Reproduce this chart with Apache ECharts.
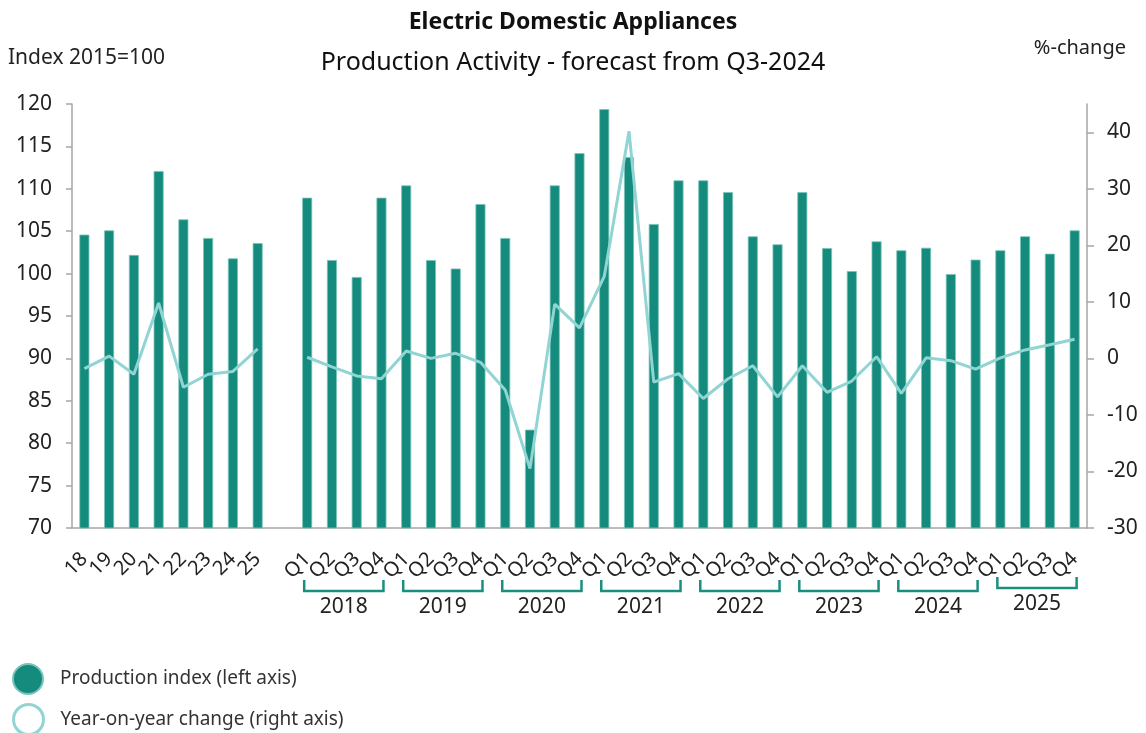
<!DOCTYPE html>
<html>
<head>
<meta charset="utf-8">
<script src="https://cdn.jsdelivr.net/npm/echarts@6/dist/echarts.min.js"></script>
<style>
  html, body { margin: 0; padding: 0; background: #ffffff; }
  #chart { width: 1146px; height: 733px; }
</style>
</head>
<body>
<div id="chart"></div>
<script>
// Annual figures (2018-2025), shown with two-digit year labels
const annualLabels = ['18', '19', '20', '21', '22', '23', '24', '25'];
const annualIndex  = [104.6, 105.1, 102.2, 112.1, 106.4, 104.2, 101.8, 103.6];
const annualChange = [-1.8, 0.4, -2.8, 9.8, -5.1, -2.8, -2.3, 1.7];

// Quarterly figures, Q1-2018 .. Q4-2025
const years = ['2018', '2019', '2020', '2021', '2022', '2023', '2024', '2025'];
const quarterLabels = ['Q1', 'Q2', 'Q3', 'Q4'];
const quarterIndex = [
  108.95, 101.6, 99.6, 108.95,
  110.4, 101.6, 100.6, 108.2,
  104.2, 81.6, 110.4, 114.2,
  119.4, 113.75, 105.85, 111.0,
  111.0, 109.6, 104.4, 103.45,
  109.6, 103.0, 100.3, 103.8,
  102.75, 103.05, 99.95, 101.65,
  102.75, 104.4, 102.35, 105.1
];
const quarterChange = [
  0.2, -1.5, -3.1, -3.6,
  1.3, 0.0, 0.9, -0.7,
  -5.6, -19.5, 9.6, 5.4,
  14.5, 40.2, -4.2, -2.7,
  -7.1, -3.6, -1.3, -6.8,
  -1.3, -6.0, -4.0, 0.3,
  -6.2, 0.1, -0.4, -1.9,
  0.1, 1.5, 2.4, 3.4
];

// Axis ticks
const leftTicks  = [70, 75, 80, 85, 90, 95, 100, 105, 110, 115, 120];
const rightTicks = [-30, -20, -10, 0, 10, 20, 30, 40];

const FONT = '"Noto Sans", sans-serif';
const TEXT = '#222222';
const BAR = '#148b7c';
const LINE = '#90d4d3';
const AXIS = '#a6a6a6';
const NAME_INDEX = 'Production index (left axis)';
const NAME_CHANGE = 'Year-on-year change (right axis)';

// One empty slot separates the annual block from the quarterly block
const categories = annualLabels.slice();
categories.push('');
years.forEach(() => quarterLabels.forEach(q => categories.push(q)));

const indexData = annualIndex.concat([null], quarterIndex);
const changeData = annualChange.concat([null], quarterChange);

const chart = echarts.init(document.getElementById('chart'), null, { renderer: 'canvas' });

const legendBase = {
  orient: 'vertical', left: 7, itemWidth: 30, itemHeight: 30,
  selectedMode: false,
  textStyle: { fontFamily: FONT, fontSize: 19, color: '#333', padding: [0, 0, 0, 12] }
};

const option = {
  animation: false,
  textStyle: { fontFamily: FONT, color: TEXT },
  title: [
    { text: 'Electric Domestic Appliances', left: 'center', top: 6,
      textStyle: { fontFamily: FONT, fontSize: 23, fontWeight: 'bold', color: '#111' } },
    { text: 'Production Activity - forecast from Q3-2024', left: 'center', top: 45,
      textStyle: { fontFamily: FONT, fontSize: 25, fontWeight: 'normal', color: '#111' } }
  ],
  grid: { left: 72, right: 59, top: 104, bottom: 205, containLabel: false },
  legend: [
    Object.assign({}, legendBase, {
      top: 658,
      data: [{ name: NAME_INDEX, icon: 'circle', itemStyle: { color: BAR } }]
    }),
    Object.assign({}, legendBase, {
      top: 698,
      data: [{ name: NAME_CHANGE, icon: 'circle',
        itemStyle: { color: '#ffffff', borderColor: LINE, borderWidth: 3 } }]
    })
  ],
  xAxis: {
    type: 'category', data: categories, boundaryGap: true,
    axisLine: { onZero: false, lineStyle: { color: AXIS, width: 1.5 } },
    axisTick: { show: false },
    axisLabel: { interval: 0, rotate: 45, margin: 28, fontSize: 20, color: TEXT, fontFamily: FONT }
  },
  yAxis: [
    {
      type: 'value', min: 70, max: 120, interval: 5, position: 'left',
      axisLine: { show: true, onZero: false, lineStyle: { color: AXIS, width: 1.5 } },
      axisTick: { show: true, length: 6, lineStyle: { color: AXIS, width: 1.5 }, customValues: leftTicks },
      axisLabel: { margin: 20, fontSize: 21, color: TEXT, fontFamily: FONT, customValues: leftTicks },
      splitLine: { show: false }
    },
    {
      type: 'value', min: -30, max: 45, interval: 10, position: 'right',
      axisLine: { show: true, onZero: false, lineStyle: { color: AXIS, width: 1.5 } },
      axisTick: { show: true, length: 7, lineStyle: { color: AXIS, width: 1.5 }, customValues: rightTicks },
      axisLabel: { margin: 20, fontSize: 21, color: TEXT, fontFamily: FONT, customValues: rightTicks },
      splitLine: { show: false }
    }
  ],
  series: [
    {
      name: NAME_INDEX, type: 'bar', yAxisIndex: 0,
      data: indexData, barWidth: 10,
      itemStyle: { color: BAR, borderColor: '#79c4ba', borderWidth: 0.8 }
    },
    {
      name: NAME_CHANGE, type: 'line', yAxisIndex: 1,
      data: changeData, symbol: 'none', connectNulls: false,
      lineStyle: { color: LINE, width: 3 }, itemStyle: { color: LINE }, z: 3
    }
  ]
};

chart.setOption(option);

// Axis captions and year brackets under the quarterly labels
const graphics = [
  { type: 'text', left: 8, top: 48,
    style: { text: 'Index 2015=100', font: '21px ' + FONT, fill: TEXT } },
  { type: 'text', right: 20, top: 38,
    style: { text: '%-change', font: '20px ' + FONT, fill: TEXT } }
];

years.forEach((yr, i) => {
  const first = annualLabels.length + 1 + i * 4;
  const x0 = chart.convertToPixel({ xAxisIndex: 0 }, first) - 3;
  const x1 = chart.convertToPixel({ xAxisIndex: 0 }, first + 3) + 2;
  const lift = i === years.length - 1 ? 3 : 0;
  const yBase = 591 - lift;
  graphics.push({
    type: 'polyline', silent: true,
    shape: { points: [[x0, yBase - 11], [x0, yBase], [x1, yBase], [x1, yBase - 11]] },
    style: { stroke: '#1a8f80', lineWidth: 2.5, fill: null }
  });
  graphics.push({
    type: 'text', silent: true, x: (x0 + x1) / 2, y: 607 - lift,
    style: { text: yr, font: '21px ' + FONT, fill: TEXT, align: 'center', verticalAlign: 'middle' }
  });
});

chart.setOption({ graphic: graphics });
</script>
</body>
</html>
